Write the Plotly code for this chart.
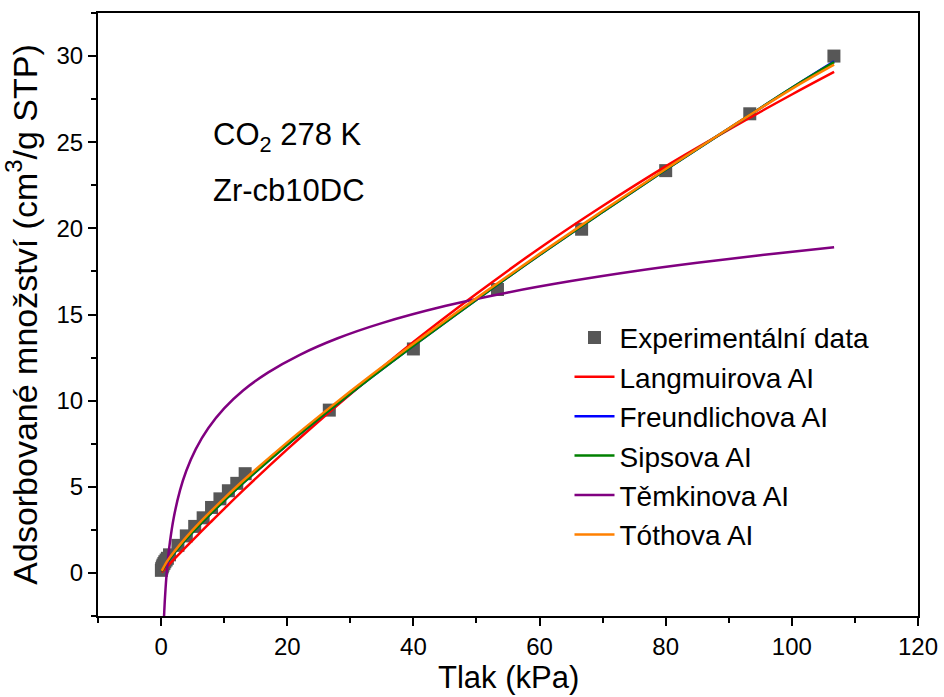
import plotly.graph_objects as go

# Experimental data
p_exp = [0.05, 0.1, 0.2, 0.3, 0.45, 0.6, 0.8, 1.0, 1.33, 2.67, 4.0, 5.33, 6.67, 8.0, 9.33,
         10.67, 12.0, 13.33, 26.67, 40.0, 53.33, 66.67, 80.0, 93.33, 106.67]
q_exp = [0.15, 0.25, 0.35, 0.45, 0.55, 0.65, 0.75, 0.85, 1.05, 1.6, 2.15, 2.7, 3.2, 3.8, 4.3,
         4.77, 5.2, 5.76, 9.45, 13.0, 16.45, 19.95, 23.35, 26.65, 30.0]

# Fitted curves
p_fit = [0.1, 1, 2, 4, 6, 8, 10, 13.3, 20, 26.7, 33.3, 40, 50, 60, 70, 80, 90, 100, 106.7]
q_langmuir = [0.04, 0.385, 0.77, 1.52, 2.27, 3.0, 3.72, 4.89, 7.17, 9.34, 11.39, 13.4, 16.2,
              18.85, 21.3, 23.6, 25.73, 27.77, 29.08]
q_freundlich = [0.09, 0.62, 1.11, 1.97, 2.75, 3.49, 4.19, 5.31, 7.44, 9.45, 11.34, 13.19, 15.86,
                18.45, 20.95, 23.41, 25.79, 28.16, 29.7]
q_sips = [0.09, 0.62, 1.11, 1.97, 2.75, 3.49, 4.19, 5.31, 7.44, 9.45, 11.34, 13.19, 15.86,
          18.45, 20.95, 23.41, 25.79, 28.16, 29.65]
q_toth = [0.12, 0.7, 1.2, 2.08, 2.88, 3.62, 4.33, 5.45, 7.58, 9.58, 11.47, 13.3, 15.95,
          18.52, 21.02, 23.45, 25.8, 28.1, 29.5]
p_temkin = [0.3, 0.5, 0.7, 1.0, 1.4, 2.0, 3.0, 4.0, 5.5, 7.5, 10, 13, 17, 22, 28, 35, 45, 55,
            65, 75, 85, 95, 106.7]
q_temkin = [-4.3, -2.28, -0.96, 0.45, 1.78, 3.19, 4.79, 5.93, 7.19, 8.41, 9.55, 10.59, 11.64,
            12.66, 13.62, 14.5, 15.49, 16.28, 16.94, 17.51, 18.0, 18.44, 18.9]

x_ticks = [0, 20, 40, 60, 80, 100, 120]
y_ticks = [0, 5, 10, 15, 20, 25, 30]

FONT = "Liberation Sans, Arial, sans-serif"

fig = go.Figure()
fig.add_trace(go.Scatter(x=p_exp, y=q_exp, mode="markers", name="Experimentální data",
                         marker=dict(symbol="square", size=13, color="#575757",
                                     line=dict(width=0))))
fig.add_trace(go.Scatter(x=p_fit, y=q_langmuir, mode="lines", name="Langmuirova AI",
                         line=dict(color="#ff0000", width=2.5, shape="spline")))
fig.add_trace(go.Scatter(x=p_fit, y=q_freundlich, mode="lines", name="Freundlichova AI",
                         line=dict(color="#0000ff", width=2.5, shape="spline")))
fig.add_trace(go.Scatter(x=p_fit, y=q_sips, mode="lines", name="Sipsova AI",
                         line=dict(color="#008000", width=2.5, shape="spline")))
fig.add_trace(go.Scatter(x=p_temkin, y=q_temkin, mode="lines", name="Těmkinova AI",
                         line=dict(color="#800080", width=2.5, shape="spline")))
fig.add_trace(go.Scatter(x=p_fit, y=q_toth, mode="lines", name="Tóthova AI",
                         line=dict(color="#ff8000", width=2.5, shape="spline")))

axis_common = dict(showgrid=False, zeroline=False, showline=True, linecolor="black",
                   linewidth=2, mirror=True, ticks="outside", ticklen=8, tickwidth=2,
                   tickcolor="black", tickfont=dict(family=FONT, size=24, color="black"))

fig.update_xaxes(range=[-10, 120], tickvals=x_ticks,
                 minor=dict(dtick=10, tick0=0, ticks="outside", ticklen=5, tickwidth=2,
                            tickcolor="black"),
                 **axis_common)
fig.update_yaxes(range=[-2.5, 32.5], tickvals=y_ticks,
                 minor=dict(dtick=2.5, tick0=0, ticks="outside", ticklen=5, tickwidth=2,
                            tickcolor="black"),
                 title=dict(text="Adsorbované množství (cm<sup>3</sup>/g STP)",
                            font=dict(family=FONT, size=34, color="black"), standoff=9),
                 **axis_common)

# x-axis title
fig.add_annotation(x=0.5, y=-0.1343, xref="paper", yref="paper", text="Tlak (kPa)",
                   showarrow=False, xanchor="center", yanchor="bottom",
                   font=dict(family=FONT, size=31, color="black"))

fig.add_annotation(x=7.9, y=25.3, xref="x", yref="y", text="CO<sub>2</sub> 278 K",
                   showarrow=False, xanchor="left", yanchor="middle",
                   font=dict(family=FONT, size=31, color="black"))
fig.add_annotation(x=7.9, y=22.2, xref="x", yref="y", text="Zr-cb10DC",
                   showarrow=False, xanchor="left", yanchor="middle",
                   font=dict(family=FONT, size=31, color="black"))

fig.update_layout(
    width=944, height=697,
    margin=dict(l=98, r=26, t=13, b=81, autoexpand=False),
    paper_bgcolor="white", plot_bgcolor="white",
    showlegend=True,
    legend=dict(x=0.575, y=0.503, xanchor="left", yanchor="top", bgcolor="rgba(0,0,0,0)",
                borderwidth=0, font=dict(family=FONT, size=28, color="black"),
                tracegroupgap=0, itemwidth=40),
)

fig.write_html("out.html")
